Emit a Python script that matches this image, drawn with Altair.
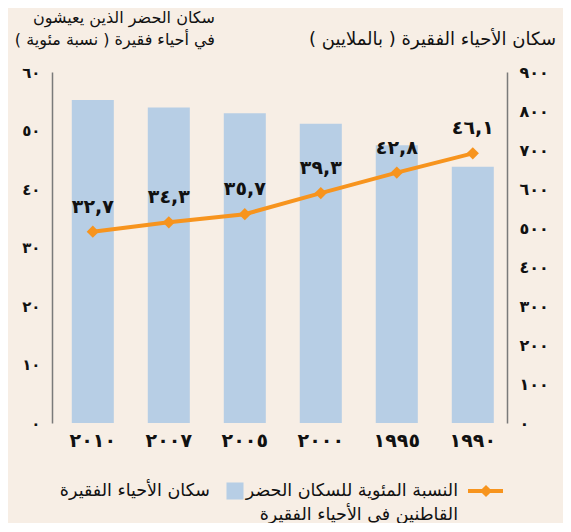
import altair as alt
import pandas as pd

# ---- data ----
years = [2010, 2007, 2005, 2000, 1995, 1990]
slum_pop_millions = [828, 809, 794, 767, 712, 657]
slum_pct = [32.7, 34.3, 35.7, 39.3, 42.8, 46.1]

title_left_1 = "سكان الحضر الذين يعيشون"
title_left_2 = "في أحياء فقيرة ( نسبة مئوية )\u200f"
title_right = "سكان الأحياء الفقيرة ( بالملايين )\u200f"
legend_line_1 = "النسبة المئوية للسكان الحضر"
legend_line_2 = "القاطنين في الأحياء الفقيرة"
legend_bar = "سكان الأحياء الفقيرة"

AR = "٠١٢٣٤٥٦٧٨٩"


def to_ar(s):
    s = str(s)
    out = ""
    for ch in s:
        if ch.isdigit():
            out += AR[int(ch)]
        elif ch == ".":
            out += ","
        else:
            out += ch
    return out


df = pd.DataFrame({
    "year": [to_ar(y) for y in years],
    "pop": slum_pop_millions,
    "pct": slum_pct,
    "pct_label": [to_ar(f"{v:.1f}") for v in slum_pct],
})

label_expr = "'' + datum.value"
for d in range(10):
    label_expr = f"replace({label_expr}, regexp('{d}', 'g'), '{AR[d]}')"

FONT = "DejaVu Sans"
BG = "#F7EEE5"
BAR = "#B7CEE5"
ORANGE = "#F7941E"
AXIS_GRAY = "#7a7a7a"

W, H = 455, 351

x_enc = alt.X(
    "year:N", sort=None, title=None,
    scale=alt.Scale(paddingInner=0.447, paddingOuter=0.217, align=0.6),
    axis=alt.Axis(domain=False, ticks=False, labelAngle=0, labelFont=FONT,
                  labelFontSize=19, labelFontWeight="bold", labelColor="#111",
                  labelPadding=8),
)

bars = alt.Chart(df).mark_bar(color=BAR).encode(
    x=x_enc,
    y=alt.Y("pop:Q", title=None,
            scale=alt.Scale(domain=[0, 900], nice=False),
            axis=alt.Axis(orient="right", values=list(range(0, 901, 100)),
                          grid=False, ticks=False, domainColor=AXIS_GRAY,
                          domainWidth=1.5, labelExpr=label_expr,
                          labelFont=FONT, labelFontSize=16,
                          labelFontWeight="bold", labelColor="#111",
                          labelPadding=12)),
)

yl = alt.Y("pct:Q", title=None,
           scale=alt.Scale(domain=[0, 60], nice=False),
           axis=alt.Axis(orient="left", values=list(range(0, 61, 10)),
                         grid=False, ticks=False, domainColor=AXIS_GRAY,
                         domainWidth=1.5, labelExpr=label_expr,
                         labelFont=FONT, labelFontSize=15,
                         labelFontWeight="bold", labelColor="#111",
                         labelPadding=12))

line = alt.Chart(df).mark_line(color=ORANGE, strokeWidth=4).encode(
    x=alt.X("year:N", sort=None), y=yl)
pts = alt.Chart(df).mark_point(shape="diamond", filled=True, color=ORANGE,
                               size=150, opacity=1).encode(
    x=alt.X("year:N", sort=None), y=yl)
lbls = alt.Chart(df).mark_text(font=FONT, fontSize=19, fontWeight="bold",
                               color="#111", dy=-25, baseline="middle").encode(
    x=alt.X("year:N", sort=None), y=yl,
    text="pct_label:N")

line_layer = alt.layer(line, pts, lbls)

one = pd.DataFrame({"k": [0]})


def txt(s, x, y, size=16, align="right"):
    return alt.Chart(one).mark_text(font=FONT, fontSize=size, align=align,
                                    baseline="middle", color="#111").encode(
        x=alt.value(x), y=alt.value(y), text=alt.value(s))


titles = [
    txt(title_left_1, 163, -54, 16),
    txt(title_left_2, 163, -32, 16),
    txt(title_right, 504, -32, 18),
    txt(legend_line_1, 406, 419, 17.5),
    txt(legend_line_2, 406, 443, 17.5),
    txt(legend_bar, 158, 419, 17.5),
]

leg_line = alt.Chart(one).mark_rule(color=ORANGE, strokeWidth=4).encode(
    x=alt.value(416), x2=alt.value(451), y=alt.value(419))
leg_pt = alt.Chart(one).mark_point(shape="diamond", filled=True, color=ORANGE,
                                   size=150, opacity=1).encode(
    x=alt.value(434), y=alt.value(419))
leg_sq = alt.Chart(one).mark_square(color=BAR, size=290, opacity=1).encode(
    x=alt.value(183), y=alt.value(419))

chart = alt.layer(bars, line_layer, *titles, leg_line, leg_pt, leg_sq).resolve_scale(
    y="independent"
).properties(
    width=W, height=H,
    background=BG,
    autosize=alt.AutoSizeParams(type="none"),
    padding={"left": 44, "top": 64, "right": 56, "bottom": 100},
).configure_view(stroke=None)

chart.save("out.html", embed_options={"renderer": "svg", "actions": False})
